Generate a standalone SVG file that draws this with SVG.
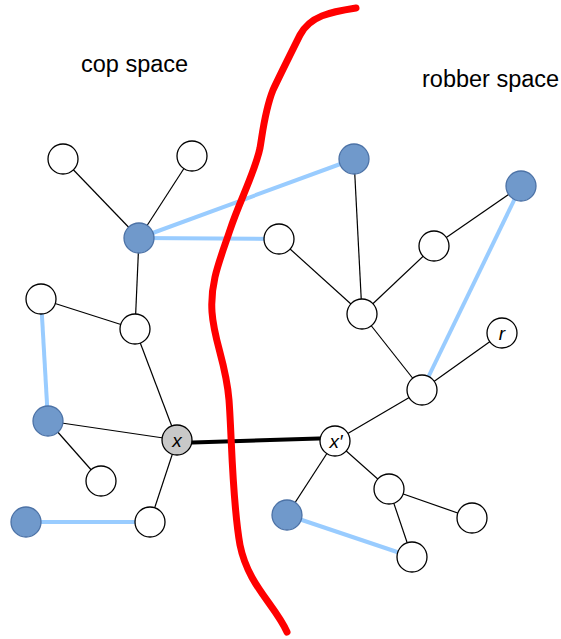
<svg xmlns="http://www.w3.org/2000/svg" width="561" height="639" viewBox="0 0 561 639">
<style>
.e{stroke:#000;stroke-width:1.2;fill:none}
.b{stroke:#99CCFF;stroke-width:4;fill:none}
.n{fill:#fff;stroke:#000;stroke-width:1.3}
.f{fill:#7099CB;stroke:#4C72A6;stroke-width:1.3}
.g{fill:#C8C8C8;stroke:#000;stroke-width:1.3}
.t{font-family:"Liberation Sans",Arial,sans-serif;font-size:23.5px;fill:#000}
.l{font-family:"Liberation Sans",Arial,sans-serif;font-size:19px;font-style:italic;fill:#000;text-anchor:middle}
</style>
<rect width="561" height="639" fill="#fff"/>
<text class="t" x="81" y="72">cop space</text>
<text class="t" x="422" y="87">robber space</text>
<g id="connectors">
<line class="e" x1="63" y1="159" x2="139" y2="238"/>
<line class="e" x1="192" y1="156" x2="139" y2="238"/>
<line class="e" x1="139" y1="238" x2="135" y2="329"/>
<line class="e" x1="41" y1="299" x2="135" y2="329"/>
<line class="e" x1="135" y1="329" x2="177" y2="440"/>
<line class="e" x1="48" y1="421" x2="177" y2="440"/>
<line class="e" x1="48" y1="421" x2="101" y2="481"/>
<line class="e" x1="177" y1="440" x2="150" y2="522"/>
<line class="e" x1="354" y1="159" x2="362" y2="314"/>
<line class="e" x1="279" y1="239" x2="362" y2="314"/>
<line class="e" x1="434" y1="246" x2="362" y2="314"/>
<line class="e" x1="434" y1="246" x2="521" y2="186"/>
<line class="e" x1="362" y1="314" x2="422" y2="390"/>
<line class="e" x1="422" y1="390" x2="502" y2="333"/>
<line class="e" x1="422" y1="390" x2="335" y2="441"/>
<line class="e" x1="335" y1="441" x2="287" y2="515"/>
<line class="e" x1="335" y1="441" x2="389" y2="489"/>
<line class="e" x1="389" y1="489" x2="472" y2="518"/>
<line class="e" x1="389" y1="489" x2="412" y2="557"/>
<line class="b" x1="139" y1="238" x2="354" y2="159"/>
<line class="b" x1="139" y1="238" x2="279" y2="239"/>
<line class="b" x1="41" y1="299" x2="48" y2="421"/>
<line class="b" x1="26" y1="522" x2="150" y2="522"/>
<line class="b" x1="521" y1="186" x2="422" y2="390"/>
<line class="b" x1="287" y1="515" x2="412" y2="557"/>
<line x1="177" y1="443" x2="335" y2="438" stroke="#000" stroke-width="4"/>
</g>
<path d="M356,8 C330,12 310,16 300,35 C290,55 280,75 273,90 C265,110 263,130 260,148 C255,172 240,200 230,230 C220,260 210,282 212,312 C214,342 226,362 229,400 C232,440 232,500 240,545 C248,585 275,605 287,632" fill="none" stroke="#FF0000" stroke-width="7" stroke-linecap="round" stroke-linejoin="round"/>
<g id="n1"><circle class="n" cx="63" cy="159" r="15"/></g>
<g id="n2"><circle class="n" cx="192" cy="156" r="15"/></g>
<g id="n3"><circle class="f" cx="139" cy="238" r="15"/></g>
<g id="n4"><circle class="n" cx="41" cy="299" r="15"/></g>
<g id="n5"><circle class="n" cx="135" cy="329" r="15"/></g>
<g id="n6"><circle class="f" cx="48" cy="421" r="15"/></g>
<g id="x"><circle class="g" cx="177" cy="440" r="15"/><text class="l" x="177" y="447">x</text></g>
<g id="n8"><circle class="n" cx="101" cy="481" r="15"/></g>
<g id="n9"><circle class="f" cx="26" cy="522" r="15"/></g>
<g id="n10"><circle class="n" cx="150" cy="522" r="15"/></g>
<g id="n11"><circle class="f" cx="354" cy="159" r="15"/></g>
<g id="n12"><circle class="f" cx="521" cy="186" r="15"/></g>
<g id="n13"><circle class="n" cx="279" cy="239" r="15"/></g>
<g id="n14"><circle class="n" cx="434" cy="246" r="15"/></g>
<g id="n15"><circle class="n" cx="362" cy="314" r="15"/></g>
<g id="r"><circle class="n" cx="502" cy="333" r="15"/><text class="l" x="502" y="340">r</text></g>
<g id="n17"><circle class="n" cx="422" cy="390" r="15"/></g>
<g id="xp"><circle class="n" cx="335" cy="441" r="15"/><text class="l" x="336" y="448">x′</text></g>
<g id="n19"><circle class="n" cx="389" cy="489" r="15"/></g>
<g id="n20"><circle class="n" cx="472" cy="518" r="15"/></g>
<g id="n21"><circle class="f" cx="287" cy="515" r="15"/></g>
<g id="n22"><circle class="n" cx="412" cy="557" r="15"/></g>
</svg>
